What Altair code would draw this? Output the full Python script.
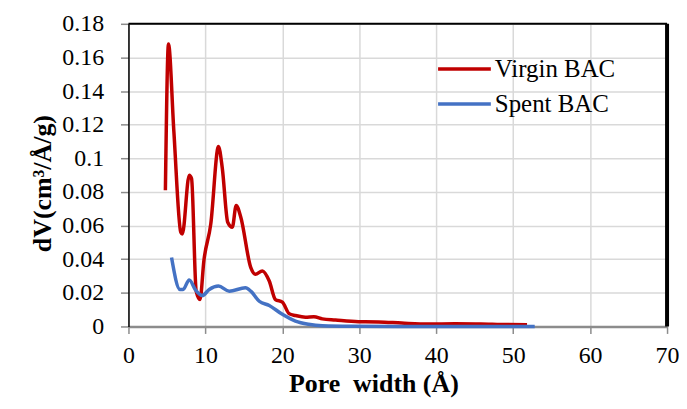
import altair as alt
import pandas as pd

virgin_x = [4.8, 5.2, 5.9, 6.8, 7.0, 7.9, 8.2, 8.8, 9.3, 9.8, 10.7, 11.7, 12.2, 12.9, 13.5, 14.0, 14.6,
            15.9, 16.5, 17.4, 18.3, 19.1, 20.0, 20.9, 21.7, 23.0, 24.1, 25.2, 26.9, 29.9, 32.5, 35.5,
            39.0, 42.4, 45.8, 48.4, 51.8]
virgin_y = [0.081, 0.168, 0.116, 0.056, 0.055, 0.090, 0.088, 0.021, 0.016, 0.039, 0.061, 0.107, 0.094,
            0.062, 0.059, 0.072, 0.065, 0.035, 0.031, 0.033, 0.027, 0.016, 0.0145, 0.0075, 0.0065,
            0.0055, 0.0058, 0.0045, 0.0038, 0.0028, 0.0027, 0.002, 0.0014, 0.0016, 0.0015, 0.0012, 0.001]

spent_x = [5.6, 6.7, 7.1, 7.9, 8.7, 9.6, 10.5, 11.7, 13.1, 15.2, 15.9, 17.0, 18.3, 20.0, 21.7, 23.4,
           25.2, 29.0, 35.0, 45.0, 52.8]
spent_y = [0.041, 0.022, 0.022, 0.0277, 0.0218, 0.0184, 0.022, 0.024, 0.021, 0.023, 0.021, 0.015,
           0.0125, 0.0072, 0.0032, 0.0013, 0.0004, 0.0001, 0.0, 0.0, 0.0]

series_names = ["Virgin BAC", "Spent BAC"]
series_colors = ["#C00000", "#4472C4"]
x_ticks = [0, 10, 20, 30, 40, 50, 60, 70]
y_ticks = [0, 0.02, 0.04, 0.06, 0.08, 0.1, 0.12, 0.14, 0.16, 0.18]

rows = []
for i, (x, y) in enumerate(zip(virgin_x, virgin_y)):
    rows.append({"series": series_names[0], "w": x, "dv": y, "o": i})
for i, (x, y) in enumerate(zip(spent_x, spent_y)):
    rows.append({"series": series_names[1], "w": x, "dv": y, "o": i})
df = pd.DataFrame(rows)

FONT = "Liberation Serif, Times New Roman, serif"
W, H = 541, 304

xscale = alt.Scale(domain=[0, 70], nice=False, zero=False)
yscale = alt.Scale(domain=[0, 0.18], nice=False)

lines = alt.Chart(df).mark_line(strokeWidth=3.5, interpolate="monotone").encode(
    x=alt.X("w:Q", scale=xscale,
            axis=alt.Axis(values=x_ticks, title="Pore\u00a0 width (Å)", domainColor="#8c8c8c",
                          domainWidth=2.5, titleX=246, labelFont=FONT, titleFont=FONT,
                          labelPadding=10, titlePadding=3)),
    y=alt.Y("dv:Q", scale=yscale,
            axis=alt.Axis(values=y_ticks, format="~g", title="dV(cm³/Å/g)", domainColor="black",
                          domainWidth=1.5, tickSize=8, labelPadding=17, titlePadding=6,
                          titleY=160, labelFont=FONT, titleFont=FONT)),
    color=alt.Color("series:N", scale=alt.Scale(domain=series_names, range=series_colors),
                    sort=series_names,
                    legend=alt.Legend(title=None, orient="none", legendX=325, legendY=33,
                                      symbolType="M-2.65,0H2.65", symbolSize=400,
                                      symbolStrokeWidth=3.5, labelFont=FONT, labelFontSize=25,
                                      labelColor="black", labelOffset=18, rowPadding=9)),
    order="o:Q",
)

frame_top = alt.Chart(pd.DataFrame({"k": [0]})).mark_rule(color="black", strokeWidth=2).encode(
    x=alt.value(0), x2=alt.value(W), y=alt.value(0))
frame_right = alt.Chart(pd.DataFrame({"k": [0]})).mark_rule(color="black", strokeWidth=4).encode(
    x=alt.value(W), y=alt.value(0), y2=alt.value(H))

chart = alt.layer(lines, frame_top, frame_right).properties(
    width=W, height=H,
    autosize=alt.AutoSizeParams(type="none"),
    padding={"left": 121, "top": 15, "right": 12, "bottom": 74},
).configure_view(stroke=None).configure(background="white", font=FONT).configure_axis(
    grid=True, gridColor="#d9d9d9", gridWidth=1.5, tickColor="#8c8c8c", tickSize=7, tickWidth=1.5,
    labelFont=FONT, labelFontSize=24, labelColor="black", labelOverlap=False,
    labelFlush=False, titleFont=FONT, titleFontSize=26, titleFontWeight="bold", titleColor="black",
)

chart.save("out.html", embed_options={"renderer": "svg", "actions": False})
